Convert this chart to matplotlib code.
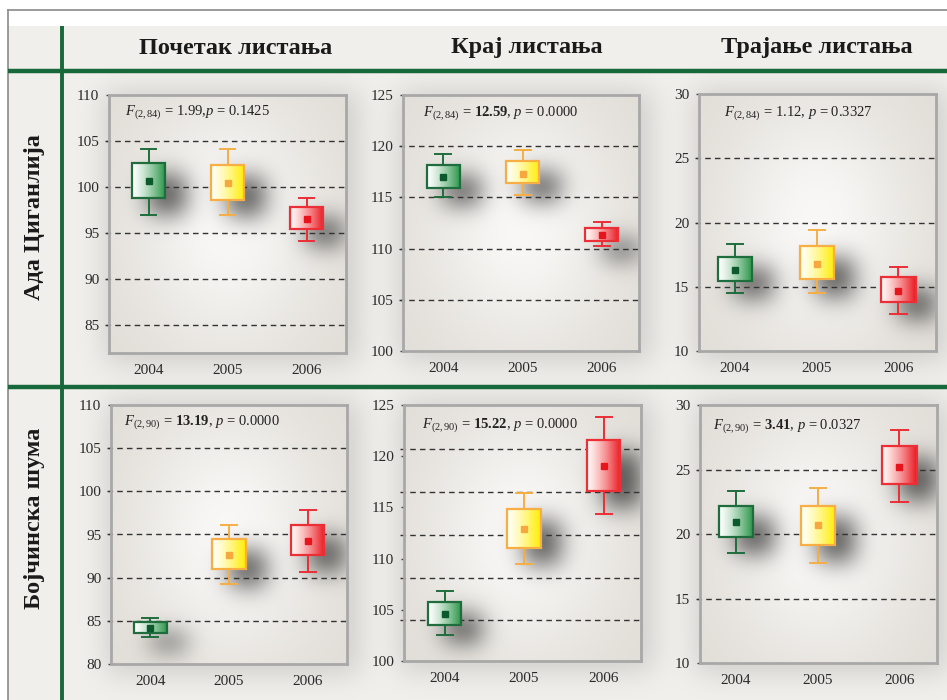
import numpy as np
import matplotlib
matplotlib.use("Agg")
import matplotlib.pyplot as plt
from matplotlib.patches import Rectangle
from matplotlib.transforms import blended_transform_factory

plt.rcParams['font.family'] = ['Liberation Serif', 'DejaVu Serif']
plt.rcParams['mathtext.fontset'] = 'custom'
plt.rcParams['mathtext.rm'] = 'Liberation Serif'
plt.rcParams['mathtext.it'] = 'Liberation Serif:italic'
plt.rcParams['mathtext.bf'] = 'Liberation Serif:bold'

# ---------------- data ----------------
years = ['2004', '2005', '2006']
col_titles = ['Почетак листања', 'Крај листања', 'Трајање листања']
row_titles = ['Ада Циганлија', 'Бојчинска шума']

# Ada Ciganlija - start of leafing
ada_start_wlo = [97.0, 97.0, 94.15]
ada_start_q1 = [98.85, 98.65, 95.5]
ada_start_mean = [100.65, 100.4, 96.5]
ada_start_q3 = [102.6, 102.4, 97.8]
ada_start_whi = [104.1, 104.1, 98.85]
# Ada Ciganlija - end of leafing
ada_end_wlo = [115.0, 115.2, 110.25]
ada_end_q1 = [115.95, 116.4, 110.7]
ada_end_mean = [117.0, 117.3, 111.3]
ada_end_q3 = [118.2, 118.6, 112.0]
ada_end_whi = [119.2, 119.6, 112.6]
# Ada Ciganlija - duration
ada_dur_wlo = [14.5, 14.5, 12.9]
ada_dur_q1 = [15.45, 15.6, 13.85]
ada_dur_mean = [16.3, 16.8, 14.7]
ada_dur_q3 = [17.35, 18.15, 15.75]
ada_dur_whi = [18.3, 19.45, 16.55]
# Bojcinska suma - start
boj_start_wlo = [83.15, 89.3, 90.68]
boj_start_q1 = [83.6, 90.96, 92.65]
boj_start_mean = [84.15, 92.6, 94.24]
boj_start_q3 = [84.85, 94.5, 96.13]
boj_start_whi = [85.3, 96.13, 97.83]
# Bojcinska suma - end
boj_end_wlo = [102.5, 109.5, 114.4]
boj_end_q1 = [103.5, 111.05, 116.65]
boj_end_mean = [104.6, 112.9, 119.0]
boj_end_q3 = [105.75, 114.85, 121.6]
boj_end_whi = [106.85, 116.4, 123.8]
# Bojcinska suma - duration
boj_dur_wlo = [18.55, 17.75, 22.5]
boj_dur_q1 = [19.8, 19.15, 23.9]
boj_dur_mean = [20.95, 20.7, 25.2]
boj_dur_q3 = [22.2, 22.2, 26.8]
boj_dur_whi = [23.3, 23.6, 28.05]

stat_texts = [
    r'$F_{(2,84)}$ = 1.99,$p$ = 0.1425',
    r'$F_{(2,84)}$ = $\mathbf{12.59}$, $p$ = 0.0000',
    r'$F_{(2,84)}$ = 1.12, $p$ = 0.3327',
    r'$F_{(2,90)}$ = $\mathbf{13.19}$, $p$ = 0.0000',
    r'$F_{(2,90)}$ = $\mathbf{15.22}$, $p$ = 0.0000',
    r'$F_{(2,90)}$ = $\mathbf{3.41}$, $p$ = 0.0327',
]

y_limits = [(82, 110), (100, 125), (10, 30), (80, 110), (100, 125), (10, 30)]
y_ticks = [[85, 90, 95, 100, 105, 110], [100, 105, 110, 115, 120, 125], [10, 15, 20, 25, 30],
           [80, 85, 90, 95, 100, 105, 110], [100, 105, 110, 115, 120, 125], [10, 15, 20, 25, 30]]
grid_levels = [[85, 90, 95, 100, 105], [105, 110, 115, 120], [15, 20, 25],
               [85, 90, 95, 100, 105], [104.0, 108.15, 112.3, 116.5, 120.7], [15, 20, 25]]

panels = [
    (ada_start_wlo, ada_start_q1, ada_start_mean, ada_start_q3, ada_start_whi),
    (ada_end_wlo, ada_end_q1, ada_end_mean, ada_end_q3, ada_end_whi),
    (ada_dur_wlo, ada_dur_q1, ada_dur_mean, ada_dur_q3, ada_dur_whi),
    (boj_start_wlo, boj_start_q1, boj_start_mean, boj_start_q3, boj_start_whi),
    (boj_end_wlo, boj_end_q1, boj_end_mean, boj_end_q3, boj_end_whi),
    (boj_dur_wlo, boj_dur_q1, boj_dur_mean, boj_dur_q3, boj_dur_whi),
]

# ---------------- styling ----------------
W, H = 947, 700
fig = plt.figure(figsize=(W / 100, H / 100), dpi=100)

# axes rects in pixel (left, top, right, bottom)
rects_px = [(109, 95, 346, 353), (403, 95, 639, 351), (699, 94, 936, 351),
            (111, 405, 347, 664), (404, 405, 641, 661), (700, 405, 937, 663)]
x_limits = [(0.5, 3.5), (0.49, 3.47), (0.56, 3.46)] * 2

fill_right = [(0.15, 0.58, 0.27), (1.0, 0.93, 0.0), (0.92, 0.10, 0.13)]
fill_left = [(1.0, 1.0, 1.0), (1.0, 1.0, 0.97), (1.0, 0.97, 0.96)]
edge_cols = ['#1f6d3d', '#f6ae45', '#ec2e36']
mean_cols = ['#0c5a2c', '#f6a83f', '#e8141c']
green_line = '#17683a'


def blur(a, s):
    pad = int(3 * s) + 2
    ap = np.pad(a, pad, mode='constant')
    n0, n1 = ap.shape
    g0 = np.exp(-2 * (np.pi * np.fft.rfftfreq(n0) * s) ** 2)
    ap = np.fft.irfft(np.fft.rfft(ap, axis=0) * g0[:, None], n=n0, axis=0)
    g1 = np.exp(-2 * (np.pi * np.fft.rfftfreq(n1) * s) ** 2)
    ap = np.fft.irfft(np.fft.rfft(ap, axis=1) * g1[None, :], n=n1, axis=1)
    return ap[pad:-pad, pad:-pad]


# ---------------- figure background ----------------
base = np.array([0.947, 0.94, 0.925])
bg = np.ones((H, W, 3)) * base
halo = np.zeros((H, W))
for (l, t, r, b) in rects_px:
    halo[t - 4:b + 10, l - 4:r + 12] = 1.0
halo = blur(halo, 14)
bg = bg * (1 - 0.14 * halo[:, :, None])
bg[:26, :, :] = 1.0
bg[:, :8, :] = 1.0
bax = fig.add_axes([0, 0, 1, 1], zorder=-10)
bax.imshow(bg, extent=(0, W, H, 0), aspect='auto', interpolation='bilinear')
bax.set_xlim(0, W)
bax.set_ylim(H, 0)
bax.axis('off')
# frame lines
bax.plot([8, W], [10, 10], color='#8a8a8a', lw=1.2)
bax.plot([8, 8], [10, H], color='#8a8a8a', lw=1.2)
bax.plot([8, W], [71, 71], color=green_line, lw=3.2, solid_capstyle='butt')
bax.plot([8, W], [387, 387], color=green_line, lw=3.2, solid_capstyle='butt')
bax.plot([62, 62], [26, H], color=green_line, lw=2.8, solid_capstyle='butt')

# headers
for title, xc in zip(col_titles, [236, 527, 817]):
    bax.text(xc, 48, title, ha='center', va='center', fontsize=17.5,
             fontweight='bold', color='#1a1a1a')
for title, yc in zip(row_titles, [217, 518]):
    bax.text(35, yc, title, ha='center', va='center', rotation=90, fontsize=17.5,
             fontweight='bold', color='#1a1a1a')

# ---------------- panels ----------------
positions = np.arange(1, len(years) + 1)
box_w = 0.42
cap_w = 0.2

for i, ((l, t, r, b), data) in enumerate(zip(rects_px, panels)):
    wlo, q1, mean, q3, whi = data
    ax = fig.add_axes([l / W, 1 - b / H, (r - l) / W, (b - t) / H])
    xl = x_limits[i]
    yl = y_limits[i]
    ax.set_xlim(*xl)
    ax.set_ylim(*yl)

    # face gradient + box shadows image
    aw, ah = r - l, b - t
    u = (np.arange(aw) + 0.5) / aw
    v = (np.arange(ah) + 0.5) / ah
    U, V = np.meshgrid(u, v)
    r2 = ((U - 0.5) / 0.45) ** 2 + ((V - 0.5) / 0.55) ** 2
    bright = np.exp(-1.2 * r2)
    edge = np.array([0.878, 0.864, 0.84])
    center = np.array([0.975, 0.972, 0.965])
    face = edge + (center - edge) * bright[:, :, None]
    sh = np.zeros((ah, aw))
    sx = aw / (xl[1] - xl[0])
    sy = ah / (yl[1] - yl[0])
    for k, p in enumerate(positions):
        x0 = int((p - box_w / 2 - xl[0]) * sx) + 18
        x1 = int((p + box_w / 2 - xl[0]) * sx) + 20
        y0 = int((q1[k] - yl[0]) * sy) - 16
        y1 = int((q3[k] - yl[0]) * sy) - 12
        sh[max(y0, 0):max(y1, 0), max(x0, 0):max(x1, 0)] = 1.0
    sh = blur(sh, 12)
    sh = np.clip(sh * 1.2, 0, 1)
    face = face * (1 - 0.56 * sh[:, :, None])
    ax.imshow(face, extent=(xl[0], xl[1], yl[0], yl[1]), origin='lower',
              aspect='auto', zorder=0, interpolation='bilinear')

    # gridlines
    tr = blended_transform_factory(ax.transAxes, ax.transData)
    for lev in grid_levels[i]:
        ax.plot([-0.018, 1.0], [lev, lev], transform=tr, ls=(0, (4, 3)), lw=1.0,
                color='#333333', clip_on=False, zorder=2)

    # boxes
    grad = np.linspace(0, 1, 64) ** 1.3
    for k, p in enumerate(positions):
        cl = np.array(fill_left[k])
        cr = np.array(fill_right[k])
        img = (cl[None, :] + (cr - cl)[None, :] * grad[:, None])[None, :, :]
        ax.imshow(img, extent=(p - box_w / 2, p + box_w / 2, q1[k], q3[k]),
                  aspect='auto', zorder=4, interpolation='bilinear')
        ax.add_patch(Rectangle((p - box_w / 2, q1[k]), box_w, q3[k] - q1[k],
                               fill=False, ec=edge_cols[k], lw=1.6, zorder=5))
        ax.plot([p, p], [q3[k], whi[k]], color=edge_cols[k], lw=1.4, zorder=4)
        ax.plot([p, p], [wlo[k], q1[k]], color=edge_cols[k], lw=1.4, zorder=4)
        ax.plot([p - cap_w / 2, p + cap_w / 2], [whi[k], whi[k]], color=edge_cols[k], lw=1.4, zorder=4)
        ax.plot([p - cap_w / 2, p + cap_w / 2], [wlo[k], wlo[k]], color=edge_cols[k], lw=1.4, zorder=4)
        ax.plot([p], [mean[k]], marker='s', ms=5, color=mean_cols[k], mec=mean_cols[k], zorder=6)

    ax.set_xlim(*xl)
    ax.set_ylim(*yl)
    ax.set_xticks(positions)
    ax.set_xticklabels(years)
    ax.set_yticks(y_ticks[i])
    ax.tick_params(axis='y', length=2, width=1, color='#444444', pad=5,
                   labelsize=11, labelcolor='#2a2a2a')
    ax.tick_params(axis='x', length=0, pad=8, labelsize=11, labelcolor='#2a2a2a')
    for s in ax.spines.values():
        s.set_color('#a8a8a8')
        s.set_linewidth(2.0)

    tx = [0.068, 0.085, 0.105, 0.055, 0.076, 0.055][i]
    ty = [0.934, 0.93, 0.926, 0.934, 0.92, 0.92][i]
    ax.text(tx, ty, stat_texts[i], transform=ax.transAxes, ha='left', va='center',
            fontsize=10.5, color='#222222', zorder=7)

fig.savefig('out.png', dpi=100)
